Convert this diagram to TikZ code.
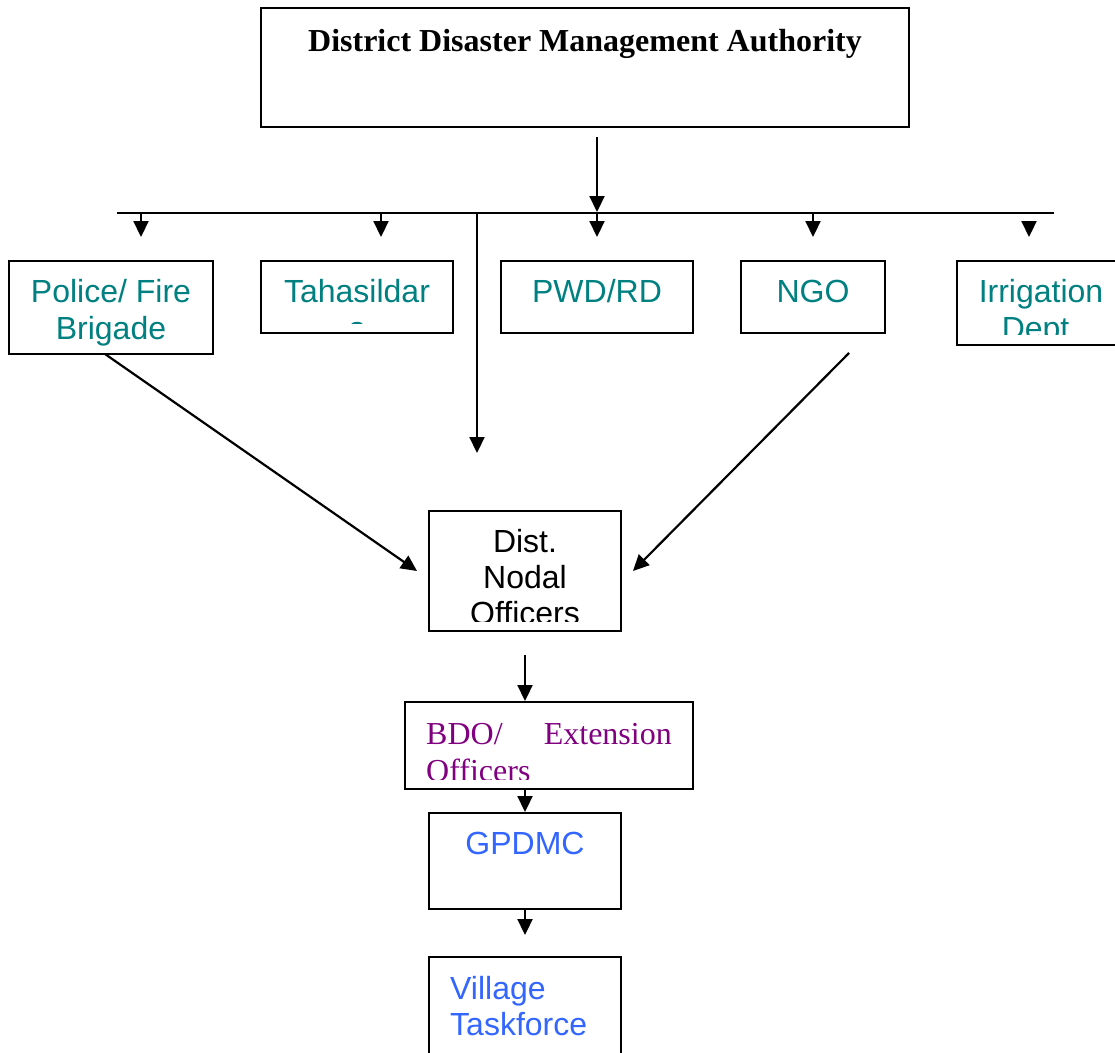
\documentclass[tikz,border=0pt]{standalone}
\usepackage{fontspec}
\setmainfont{Liberation Serif}
\newfontfamily\arialf{Liberation Sans}
\usetikzlibrary{arrows.meta}
\definecolor{tealtxt}{HTML}{008080}
\definecolor{purptxt}{HTML}{800080}
\definecolor{bluetxt}{HTML}{3366FF}
\tikzset{
  box/.style={draw, line width=2pt, rectangle, inner sep=0pt},
  arr/.style={line width=2.2pt, -{Triangle[length=16pt,width=15pt]}},
  bus/.style={line width=2.2pt},
  sanstxt/.style={font=\arialf\fontsize{32}{37}\selectfont, inner sep=0pt},
  seriftxt/.style={font=\fontsize{32}{37}\selectfont, inner sep=0pt},
}
\begin{document}
\begin{tikzpicture}[x=1pt,y=-1pt]
\clip (0,0) rectangle (1115,1052);
\fill[white] (0,0) rectangle (1115,1052);
% boxes
\node[box, minimum width=648pt, minimum height=119pt] (ddma) at (585,67.5) {};
\node[box, minimum width=204pt, minimum height=93pt] (police) at (111,307.5) {};
\node[box, minimum width=192pt, minimum height=72pt] (tah) at (357,297) {};
\node[box, minimum width=192pt, minimum height=72pt] (pwd) at (597,297) {};
\node[box, minimum width=144pt, minimum height=72pt] (ngo) at (813,297) {};
\node[box, minimum width=180pt, minimum height=84pt] (irr) at (1047,303) {};
\node[box, minimum width=192pt, minimum height=120pt] (nodal) at (525,571) {};
\node[box, minimum width=288pt, minimum height=87pt] (bdo) at (549,745.5) {};
\node[box, minimum width=192pt, minimum height=96pt] (gpdmc) at (525,861) {};
\node[box, minimum width=192pt, minimum height=110pt] (village) at (525,1012) {};
% texts
\node[seriftxt, anchor=base, font=\bfseries\fontsize{32}{37}\selectfont] (tddma) at (585,51) {District Disaster Management Authority};
\node[sanstxt, text=tealtxt, anchor=base] (tpol1) at (111,302) {Police/ Fire};
\node[sanstxt, text=tealtxt, anchor=base] (tpol2) at (111,339) {Brigade};
\node[sanstxt, text=tealtxt, anchor=base] (ttah1) at (357,302) {Tahasildar};
\begin{scope}
\clip (262,262) rectangle (452,323.5);
\node[sanstxt, text=tealtxt, anchor=base] (ttah2) at (357,339) {s};
\end{scope}
\node[sanstxt, text=tealtxt, anchor=base] (tpwd) at (597,302) {PWD/RD};
\node[sanstxt, text=tealtxt, anchor=base] (tngo) at (813,302) {NGO};
\node[sanstxt, text=tealtxt, anchor=base] (tirr1) at (1041,302) {Irrigation};
\begin{scope}
\clip (958,262) rectangle (1115,334);
\node[sanstxt, text=tealtxt, anchor=base] (tirr2) at (1040,339) {Dept.};
\end{scope}
\node[sanstxt, anchor=base] (tnod1) at (525,552) {Dist.};
\node[sanstxt, anchor=base] (tnod2) at (525,588) {Nodal};
\begin{scope}
\clip (430,512) rectangle (620,621);
\node[sanstxt, anchor=base] (tnod3) at (525,624) {Officers};
\end{scope}
\node[seriftxt, text=purptxt, anchor=base west] (tbdo1) at (426,744) {BDO/};
\node[seriftxt, text=purptxt, anchor=base east] (tbdo2) at (672,744) {Extension};
\begin{scope}
\clip (406,703) rectangle (692,779);
\node[seriftxt, text=purptxt, anchor=base west] (tbdo3) at (426,781) {Officers};
\end{scope}
\node[sanstxt, text=bluetxt, anchor=base] (tgp) at (525,854) {GPDMC};
\node[sanstxt, text=bluetxt, anchor=base west] (tvil1) at (450,999) {Village};
\node[sanstxt, text=bluetxt, anchor=base west] (tvil2) at (450,1035) {Taskforce};
% connector coordinates
\coordinate (c0) at (597,137);
\coordinate (c1) at (597,212);
\coordinate (busL) at (117,213);
\coordinate (busR) at (1054,213);
\coordinate (b1) at (141,213);
\coordinate (e1) at (141,237);
\coordinate (b2) at (381,213);
\coordinate (e2) at (381,237);
\coordinate (b3) at (597,213);
\coordinate (e3) at (597,237);
\coordinate (b4) at (813,213);
\coordinate (e4) at (813,237);
\coordinate (b5) at (1029,222);
\coordinate (e5) at (1029,237);
\coordinate (v0) at (477,213);
\coordinate (v1) at (477,453);
\coordinate (p0) at (105,354);
\coordinate (p1) at (417,571);
\coordinate (n0) at (849,353);
\coordinate (n1) at (633,571);
\coordinate (d0) at (525,655);
% connectors
\draw[arr] (c0) -- (c1);
\draw[bus] (busL) -- (busR);
\draw[arr] (b1) -- (e1);
\draw[arr] (b2) -- (e2);
\draw[arr] (b3) -- (e3);
\draw[arr] (b4) -- (e4);
\draw[arr] (b5) -- (e5);
\draw[arr] (v0) -- (v1);
\draw[arr] (p0) -- (p1);
\draw[arr] (n0) -- (n1);
\draw[arr] (d0) -- (bdo.north -| d0);
\draw[arr] (bdo.south -| d0) -- (gpdmc.north);
\draw[arr] (gpdmc.south) -- ++(0,25);
\end{tikzpicture}
\end{document}
